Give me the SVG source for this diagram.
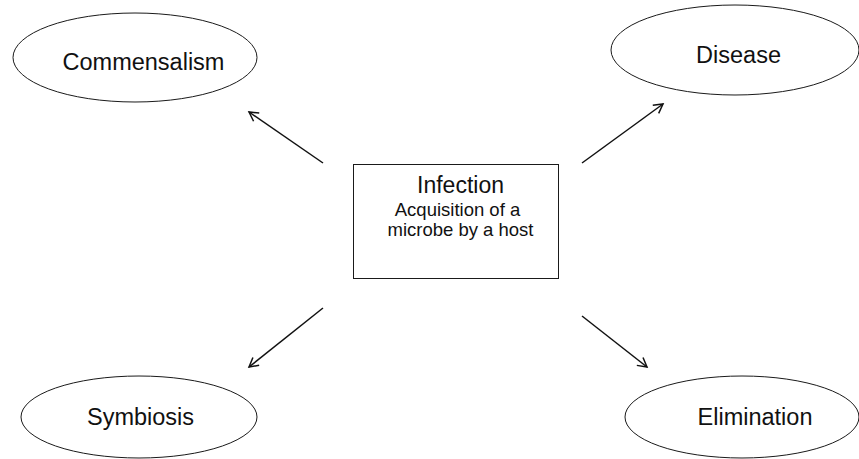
<svg xmlns="http://www.w3.org/2000/svg" width="859" height="459" viewBox="0 0 859 459">
<style>
.n{fill:#fff;stroke:#1a1a1a;stroke-width:1}
.t{font-family:"Liberation Sans",Arial,sans-serif;fill:#111;text-anchor:middle}
.big{font-size:23.5px}
.mid{font-size:23px}
.small{font-size:18.5px}
.c{stroke:#111;stroke-width:1.5;fill:none;marker-end:url(#ah)}
</style>
<defs>
<marker id="ah" markerWidth="12" markerHeight="12" refX="10" refY="6" orient="auto" markerUnits="userSpaceOnUse">
<path d="M1,1 L10,6 L1,11" fill="none" stroke="#111" stroke-width="1.5"/>
</marker>
</defs>
<rect width="859" height="459" fill="#fff"/>
<g id="connectors">
<line class="c" x1="323" y1="163" x2="249" y2="112"/>
<line class="c" x1="582" y1="163" x2="663" y2="104"/>
<line class="c" x1="323" y1="308" x2="249" y2="367"/>
<line class="c" x1="582" y1="316" x2="647" y2="367"/>
</g>
<g id="infection">
<rect class="n" x="353.5" y="164.5" width="205" height="114"/>
<text class="t mid" x="460.5" y="193">Infection</text>
<text class="t small" x="457.5" y="216">Acquisition of a</text>
<text class="t small" x="460.5" y="236">microbe by a host</text>
</g>
<g id="commensalism">
<ellipse class="n" cx="135" cy="57.5" rx="122" ry="44.5"/>
<text class="t big" x="143.5" y="70">Commensalism</text>
</g>
<g id="disease">
<ellipse class="n" cx="735" cy="50" rx="124" ry="45"/>
<text class="t big" x="738.5" y="63">Disease</text>
</g>
<g id="symbiosis">
<ellipse class="n" cx="139" cy="417" rx="118" ry="41"/>
<text class="t big" x="140.5" y="425">Symbiosis</text>
</g>
<g id="elimination">
<ellipse class="n" cx="742" cy="417" rx="117" ry="41"/>
<text class="t big" x="755" y="425">Elimination</text>
</g>
</svg>
